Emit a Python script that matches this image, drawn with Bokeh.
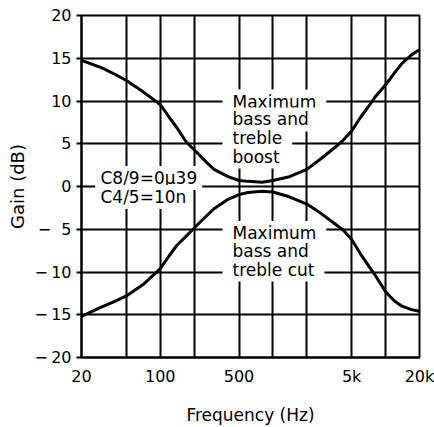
from bokeh.plotting import figure
from bokeh.models import Range1d, FixedTicker, Label
from bokeh.embed import file_html
from bokeh.resources import INLINE

# ---- data ----
freq = [20, 30, 40, 50, 70, 100, 120, 140, 170, 200, 250, 300, 400, 500,
        600, 800, 1000, 1400, 2000, 2700, 3500, 4200, 5000, 6000, 7000,
        8000, 10000, 12000, 14000, 17000, 20000]
boost_db = [14.75, 13.9, 13.1, 12.4, 11.1, 9.6, 8.1, 6.9, 5.2, 4.3, 3.0, 2.0,
            1.15, 0.7, 0.6, 0.5, 0.7, 1.15, 2.0, 3.3, 4.5, 5.4, 6.5, 8.1,
            9.3, 10.4, 11.9, 13.3, 14.4, 15.4, 16.0]
cut_db = [-15.2, -14.1, -13.4, -12.8, -11.5, -9.6, -8.1, -6.9, -5.8, -4.85,
          -3.6, -2.6, -1.5, -0.95, -0.7, -0.55, -0.65, -1.2, -2.05, -3.2,
          -4.3, -5.1, -6.2, -7.9, -9.2, -10.3, -12.3, -13.4, -14.0, -14.4,
          -14.6]

x_ticks = [20, 100, 500, 5000, 20000]
x_tick_labels = ["20", "100", "500", "5k", "20k"]
x_grid = [20, 50, 100, 200, 500, 1000, 2000, 5000, 10000, 20000]
y_ticks = [-20, -15, -10, -5, 0, 5, 10, 15, 20]
y_tick_labels = ["\u2212\u200920", "\u2212\u200915", "\u2212\u200910", "\u2212\u20075",
                 "0", "5", "10", "15", "20"]

boost_text = ["Maximum", "bass and", "treble", "boost"]
boost_text_y = [9.94, 7.84, 5.67, 3.5]
cut_text = ["Maximum", "bass and", "treble cut"]
cut_text_y = [-5.44, -7.6, -9.71]
cap_text = ["C8/9=0\u00b539", "C4/5=10n"]
cap_text_y = [0.99, -1.23]
text_x_main = 357
text_x_cap = 26.6

FONT = "DejaVu Sans"

p = figure(width=434, height=427, x_axis_type="log",
           x_range=Range1d(20, 20000), y_range=Range1d(-20, 20),
           output_backend="svg", toolbar_location=None,
           min_border_left=81, min_border_right=15, min_border_top=15,
           min_border_bottom=70)
p.background_fill_color = "white"
p.border_fill_color = "white"
p.outline_line_color = "black"
p.outline_line_width = 2

# grids
p.xgrid.ticker = FixedTicker(ticks=x_grid)
p.ygrid.ticker = FixedTicker(ticks=y_ticks)
for g in (p.xgrid, p.ygrid):
    g.grid_line_color = "black"
    g.grid_line_width = 2
    g.grid_line_alpha = 1.0

# x axis
xa = p.xaxis[0]
xa.ticker = FixedTicker(ticks=x_ticks, minor_ticks=[])
xa.major_label_overrides = {t: l for t, l in zip(x_ticks, x_tick_labels)}
xa.major_tick_out = 0
xa.major_tick_in = 0
xa.minor_tick_out = 0
xa.minor_tick_in = 0
xa.axis_line_color = "black"
xa.axis_line_width = 2
xa.major_label_standoff = 9
xa.major_label_text_font = FONT
xa.major_label_text_font_size = "16px"
xa.major_label_text_color = "black"
xa.axis_label = "Frequency (Hz)"
xa.axis_label_text_font = FONT
xa.axis_label_text_font_size = "17px"
xa.axis_label_text_font_style = "normal"
xa.axis_label_text_color = "black"
xa.axis_label_standoff = 16

# y axis
ya = p.yaxis[0]
ya.ticker = FixedTicker(ticks=y_ticks, minor_ticks=[])
ya.major_label_overrides = {t: l for t, l in zip(y_ticks, y_tick_labels)}
ya.major_tick_out = 5
ya.major_tick_in = 0
ya.major_tick_line_width = 2
ya.major_tick_line_color = "black"
ya.minor_tick_out = 0
ya.minor_tick_in = 0
ya.axis_line_color = "black"
ya.axis_line_width = 2
ya.major_label_standoff = 5
ya.major_label_text_font = FONT
ya.major_label_text_font_size = "16px"
ya.major_label_text_color = "black"
ya.axis_label = "Gain (dB)"
ya.axis_label_text_font = FONT
ya.axis_label_text_font_size = "18px"
ya.axis_label_text_font_style = "normal"
ya.axis_label_text_color = "black"
ya.axis_label_standoff = 4

# curves
r1 = p.line(freq, boost_db, line_color="black", line_width=3, line_join="round")
r2 = p.line(freq, cut_db, line_color="black", line_width=3, line_join="round")
r1.level = "overlay"
r2.level = "overlay"


def add_text(txt, x, y, pad):
    p.add_layout(Label(x=x, y=y, text=txt, text_font=FONT,
                       text_font_size="17px", text_color="black",
                       text_align="left", text_baseline="middle",
                       background_fill_color="white", padding=pad))


for t, y in zip(boost_text, boost_text_y):
    add_text(t, text_x_main, y, (10, 2))
for t, y in zip(cut_text, cut_text_y):
    add_text(t, text_x_main, y, (10, 2))
for t, y in zip(cap_text, cap_text_y):
    add_text(t, text_x_cap, y, (5, 2))

open("out.html", "w").write(file_html(p, INLINE))
